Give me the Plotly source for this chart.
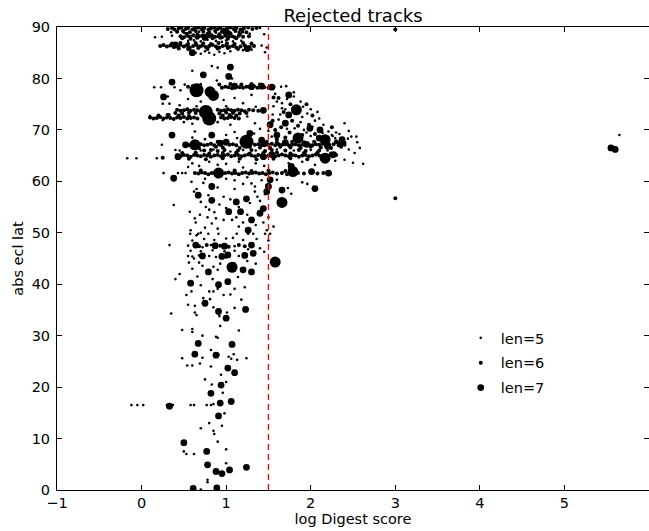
import plotly.graph_objects as go

# ---------------- data ----------------
threshold = 1.5  # dashed cut line in log Digest score

x_ticks = [-1, 0, 1, 2, 3, 4, 5, 6]
y_ticks = [0, 10, 20, 30, 40, 50, 60, 70, 80, 90]

# len=5 tracks (smallest markers)
len5_pts = [
    (0.16, 88.0), (0.24, 88.1), (0.36, 88.3), (0.55, 87.3), (0.62, 87.4), (0.70, 87.2), (0.78, 87.5),
    (0.88, 87.3), (0.95, 87.1), (1.00, 87.4), (1.08, 87.2), (1.18, 87.3), (0.58, 85.4), (0.64, 85.0),
    (0.70, 84.8), (0.75, 85.3), (0.80, 85.0), (0.86, 84.6), (0.92, 85.2), (0.98, 84.9), (1.05, 85.3),
    (1.20, 85.5), (1.30, 85.6), (1.46, 85.1), (1.42, 86.4), (1.48, 86.0), (0.35, 89.0), (0.50, 88.9),
    (0.68, 89.1), (0.88, 88.9), (1.15, 89.0), (1.28, 88.7), (1.40, 89.8), (1.45, 88.6),
    (0.83, 82.4), (0.90, 82.1), (0.60, 81.5), (0.89, 79.6), (1.07, 80.0), (0.51, 78.8), (0.46, 77.7),
    (0.15, 78.3), (0.23, 78.3), (0.39, 78.3), (0.60, 78.6), (0.70, 78.9), (1.65, 78.4), (1.71, 78.5),
    (0.31, 76.5), (0.97, 75.8), (1.10, 76.2), (0.25, 75.1), (0.33, 75.1), (0.55, 76.0), (0.70, 75.5),
    (1.20, 75.2), (1.30, 76.8), (0.45, 74.8), (0.65, 74.6), (1.00, 74.6), (0.30, 73.0), (0.10, 72.7),
    (0.25, 71.9), (0.50, 71.5), (0.60, 71.2), (0.90, 71.5), (1.05, 71.0), (1.25, 72.6), (1.35, 74.5),
    (1.80, 77.3), (1.80, 76.5), (1.66, 75.2), (1.66, 74.2), (1.91, 74.5), (1.96, 73.2), (1.34, 71.3),
    (1.81, 70.3), (1.88, 71.5), (2.21, 69.7), (2.40, 71.3), (2.29, 68.4), (2.48, 68.7), (2.54, 68.7),
    (1.54, 68.7), (1.60, 75.5), (1.55, 73.0), (1.62, 72.0), (1.90, 72.5), (2.05, 71.8), (1.95, 69.5),
    (2.30, 69.5), (2.15, 71.0), (1.58, 77.0), (1.70, 74.0), (2.00, 68.8), (2.45, 69.8), (0.63, 69.7),
    (1.33, 69.3), (1.13, 68.4), (2.58, 66.5), (2.62, 63.4), (2.50, 63.6), (2.52, 65.5), (2.45, 66.2),
    (1.50, 69.8), (1.40, 70.2), (1.72, 76.0), (2.10, 72.2), (2.25, 69.0),
    (1.56, 74.6), (1.64, 73.0), (1.72, 70.2), (1.82, 69.0), (1.92, 70.0), (2.02, 70.6), (2.14, 69.4),
    (2.26, 68.8), (2.34, 69.2), (2.44, 68.3), (2.55, 67.6), (2.00, 74.0), (2.08, 73.5), (1.88, 75.5),
    (-0.17, 64.5), (-0.06, 64.5), (0.18, 64.5), (0.70, 66.0), (0.85, 66.2), (1.05, 65.8), (1.20, 66.1),
    (1.35, 66.0), (1.60, 66.2), (1.80, 66.0), (2.00, 66.1), (2.20, 66.0), (0.60, 63.5), (0.80, 63.8),
    (1.00, 63.4), (1.15, 63.8), (1.35, 63.5), (1.74, 63.5), (2.29, 64.0), (2.40, 64.2), (1.90, 63.8),
    (2.05, 63.2), (0.26, 61.6), (0.43, 61.6), (0.48, 61.6), (0.52, 61.6), (0.40, 66.1), (0.45, 66.0),
    (0.24, 67.1), (0.60, 68.5), (0.75, 68.2), (1.00, 69.0), (1.10, 69.6),
    (0.55, 62.8), (0.68, 63.0), (0.90, 63.2), (1.20, 62.7), (1.45, 63.0), (0.75, 60.5), (1.10, 60.2),
    (1.30, 59.6),
    (0.59, 59.9), (0.73, 59.7), (0.79, 57.3), (1.34, 59.0), (1.60, 60.3), (1.73, 58.7), (1.90, 59.8),
    (1.96, 59.5), (1.77, 57.6), (1.34, 58.0), (1.37, 57.0), (1.48, 59.3), (0.38, 55.4), (0.97, 57.0),
    (1.10, 58.5), (1.20, 59.5), (0.90, 58.8), (1.00, 60.5), (1.25, 60.8), (1.42, 60.2), (0.65, 58.5),
    (0.62, 58.0), (0.70, 56.0), (0.76, 55.0), (0.86, 54.0), (0.92, 55.5), (1.05, 56.5), (1.15, 55.0),
    (1.28, 55.8), (1.40, 56.2), (1.46, 57.5),
    (0.57, 54.1), (0.63, 52.8), (0.69, 53.5), (0.97, 52.5), (1.07, 52.5), (0.83, 51.8), (0.58, 50.5),
    (1.48, 50.5), (1.56, 51.2), (0.75, 51.0), (0.90, 50.8), (1.15, 51.2), (1.35, 51.5), (1.00, 54.8),
    (0.80, 54.5), (1.25, 53.5), (0.70, 50.0), (0.65, 49.5), (1.50, 53.0), (0.64, 52.0), (0.78, 53.0),
    (0.88, 52.8), (1.12, 53.0), (1.20, 52.0), (1.44, 52.0),
    (0.575, 49.8), (0.67, 49.8), (0.79, 49.8), (0.91, 49.8), (1.125, 49.8), (1.26, 49.8), (1.32, 49.8),
    (1.46, 49.8), (1.52, 49.8), (0.55, 47.5), (0.72, 47.2), (0.82, 47.6), (1.10, 47.4),
    (0.60, 48.5), (0.74, 48.8), (0.86, 48.6), (1.00, 48.9), (1.08, 49.0), (1.20, 48.6), (1.36, 48.8),
    (0.58, 46.5), (0.70, 46.4), (0.84, 46.6), (0.98, 46.4), (1.10, 46.5), (1.26, 46.8),
    (0.55, 45.5), (0.60, 45.4), (0.68, 45.6), (0.80, 45.5), (0.88, 45.3), (1.00, 45.2), (1.15, 45.5),
    (0.33, 47.6), (0.56, 44.2), (0.68, 44.2), (0.85, 43.4), (0.93, 44.0), (0.62, 45.0), (1.35, 44.0),
    (1.40, 47.0), (1.45, 46.3), (1.50, 48.5), (0.45, 42.0), (0.40, 41.0), (0.60, 43.0), (0.72, 43.6),
    (0.90, 42.8), (1.10, 44.0), (1.25, 44.5), (0.66, 41.5), (0.84, 41.0), (1.14, 41.4),
    (0.59, 38.6), (0.53, 37.9), (0.73, 37.3), (0.80, 38.6), (0.85, 38.6), (0.90, 39.1), (0.97, 37.9),
    (1.10, 39.1), (1.22, 39.4), (0.81, 37.1), (0.70, 39.8), (1.05, 38.0), (1.18, 37.0), (0.55, 36.0),
    (0.85, 35.5),
    (0.48, 31.1), (0.60, 30.7), (0.60, 31.3), (0.63, 34.5),
    (0.65, 34.0), (0.88, 29.8), (0.90, 29.6), (0.35, 34.3), (0.63, 35.8), (1.01, 34.5), (0.92, 33.8),
    (1.10, 35.4), (0.93, 31.9), (0.72, 30.0), (1.15, 31.0),
    (0.48, 25.6), (0.54, 24.2), (0.60, 24.2), (0.69, 24.6), (0.72, 25.7), (0.82, 27.2), (0.86, 26.3),
    (0.91, 26.3), (1.24, 25.6), (1.13, 25.3), (1.09, 26.4), (1.03, 25.9), (1.06, 25.5), (0.82, 24.0),
    (0.94, 22.4), (0.75, 21.5), (1.00, 21.0), (0.83, 20.5), (0.96, 18.9),
    (-0.12, 16.5), (-0.05, 16.5), (0.02, 16.5), (0.30, 16.5), (0.37, 16.5), (0.58, 16.5), (0.62, 16.5),
    (0.77, 16.5), (0.82, 16.5), (0.85, 16.7),
    (0.98, 14.9), (0.80, 13.0), (0.70, 12.0), (0.95, 12.5), (0.85, 11.5), (0.86, 10.9), (0.90, 9.4),
    (1.00, 7.9), (0.50, 7.5), (0.53, 7.0), (0.62, 7.0), (1.00, 5.2), (0.78, 1.5), (0.78, 2.0),
    (0.70, 0.1), (5.65, 69.0),
]

# len=6 tracks (medium markers)
len6_pts = [
    (0.31, 89.6), (0.36, 89.8), (0.39, 89.5), (0.44, 89.7), (0.47, 89.9), (0.52, 89.6), (0.55, 89.8),
    (0.60, 89.5), (0.63, 89.7), (0.67, 89.9), (0.71, 89.6), (0.74, 89.8), (0.79, 89.5), (0.82, 89.7),
    (0.86, 89.9), (0.90, 89.6), (0.93, 89.8), (0.97, 89.5), (1.01, 89.7), (1.05, 89.9), (1.09, 89.6),
    (1.12, 89.8), (1.17, 89.5), (1.21, 89.7), (1.26, 89.9), (1.31, 89.6), (1.36, 89.8),
    (0.42, 89.1), (0.49, 89.2), (0.57, 89.0), (0.64, 89.2), (0.73, 89.1), (0.80, 89.0), (0.87, 89.2),
    (0.95, 89.1), (1.03, 89.0), (1.11, 89.2), (1.19, 89.1), (1.24, 89.0),
    (0.53, 88.7), (0.66, 88.6), (0.78, 88.7), (0.92, 88.6), (1.05, 88.8), (1.16, 88.6),
    (0.46, 88.2), (0.50, 88.0), (0.54, 88.3), (0.57, 88.1), (0.61, 88.4), (0.65, 88.0), (0.68, 88.2),
    (0.72, 88.3), (0.76, 88.0), (0.80, 88.2), (0.83, 88.4), (0.87, 88.1), (0.91, 88.2), (0.95, 88.0),
    (0.99, 88.3), (1.03, 88.1), (1.07, 88.2), (1.10, 88.0), (1.15, 88.3), (1.20, 88.1), (1.27, 88.2),
    (0.48, 87.8), (0.58, 87.7), (0.66, 87.9), (0.74, 87.7), (0.84, 87.8), (0.93, 87.9), (1.02, 87.7),
    (1.12, 87.8),
    (0.36, 86.8), (0.46, 86.9), (0.55, 86.7), (0.64, 86.9), (0.73, 86.8), (0.82, 86.7), (0.91, 86.9),
    (1.01, 86.8), (1.10, 86.7), (1.20, 86.9), (1.30, 86.8),
    (0.22, 86.3), (0.26, 86.5), (0.30, 86.2), (0.34, 86.4), (0.38, 86.1), (0.42, 86.3), (0.46, 86.5),
    (0.50, 86.2), (0.53, 86.4), (0.57, 86.0), (0.61, 86.3), (0.65, 86.5), (0.69, 86.2), (0.72, 86.4),
    (0.76, 86.1), (0.80, 86.3), (0.84, 86.5), (0.88, 86.2), (0.92, 86.0), (0.96, 86.3), (1.00, 86.4),
    (1.04, 86.1), (1.08, 86.3), (1.12, 86.0), (1.17, 86.2), (1.22, 86.4), (1.28, 86.1), (1.33, 86.3),
    (0.44, 85.8), (0.55, 85.7), (0.67, 85.9), (0.78, 85.7), (0.90, 85.8), (1.02, 85.9), (1.14, 85.7),
    (0.55, 78.4), (0.95, 78.2), (0.99, 78.4), (1.03, 78.3), (1.07, 78.1), (1.12, 78.4), (1.16, 78.3),
    (1.20, 78.2), (1.24, 78.4), (1.28, 78.3), (1.33, 78.5), (1.37, 78.2), (1.41, 78.4), (1.45, 78.3),
    (1.50, 78.2), (1.56, 78.4), (0.92, 78.8), (1.05, 78.9), (1.18, 78.8), (1.30, 78.9), (1.40, 78.8),
    (0.42, 73.9), (0.46, 73.7), (0.50, 73.8), (0.54, 74.0), (0.58, 73.7), (0.62, 73.9), (0.66, 73.8),
    (0.90, 73.9), (0.94, 73.7), (0.98, 73.8), (1.02, 74.0), (1.06, 73.8), (1.10, 73.7), (1.14, 73.9),
    (1.18, 73.8), (1.22, 73.6), (1.27, 73.9), (1.32, 73.8), (1.38, 73.7),
    (0.40, 73.3), (0.48, 73.2), (0.56, 73.4), (0.64, 73.3), (0.92, 73.2), (1.00, 73.4), (1.08, 73.3),
    (1.16, 73.2), (1.24, 73.3), (0.20, 72.8), (0.32, 72.9), (0.44, 72.8), (0.56, 72.7), (0.96, 72.8),
    (1.04, 72.9), (1.12, 72.8),
    (0.10, 72.4), (0.14, 72.2), (0.18, 72.3), (0.22, 72.5), (0.26, 72.2), (0.30, 72.4), (0.34, 72.3),
    (0.38, 72.1), (0.42, 72.4), (0.46, 72.3), (0.50, 72.5), (0.54, 72.2), (0.58, 72.3), (0.62, 72.4),
    (0.66, 72.2), (0.94, 72.4), (0.98, 72.2), (1.02, 72.3), (1.06, 72.5), (1.10, 72.3), (1.15, 72.2),
    (0.66, 67.6), (0.90, 67.7), (1.30, 67.6), (1.48, 67.7), (1.60, 67.6), (1.78, 67.7), (1.92, 67.6),
    (2.04, 67.7), (2.30, 67.6),
    (0.52, 67.1), (0.56, 67.0), (0.70, 67.2), (0.74, 67.0), (0.78, 67.1), (0.82, 67.3), (0.86, 67.0),
    (1.04, 67.1), (1.08, 67.2), (1.12, 67.0), (1.34, 67.1), (1.38, 67.2), (1.42, 67.0), (1.46, 67.2),
    (1.50, 67.1), (1.54, 67.3), (1.58, 67.0), (1.62, 67.2), (1.66, 67.1), (1.70, 67.3), (1.74, 67.0),
    (1.78, 67.1), (1.82, 67.2), (1.86, 67.0), (1.90, 67.1), (1.94, 67.3), (1.98, 67.1), (2.02, 67.0),
    (2.06, 67.2), (2.10, 67.1), (2.14, 67.3), (2.18, 67.0), (2.22, 67.1), (2.27, 67.2), (2.33, 67.0),
    (2.40, 67.1),
    (0.60, 66.6), (0.68, 66.5), (0.88, 66.7), (0.96, 66.6), (1.16, 66.5), (1.28, 66.7), (1.40, 66.6),
    (1.52, 66.5), (1.64, 66.7), (1.76, 66.6), (1.88, 66.5), (2.00, 66.7), (2.12, 66.6), (2.24, 66.5),
    (2.36, 66.7),
    (0.74, 66.0), (0.82, 66.1), (0.90, 65.9), (0.98, 66.1), (1.14, 66.0), (1.30, 66.1), (1.46, 65.9),
    (1.54, 66.1), (1.70, 66.0), (1.86, 66.1), (1.94, 65.9), (2.10, 66.0),
    (0.48, 65.5), (0.64, 65.6), (0.80, 65.4), (0.96, 65.5), (1.12, 65.6), (1.28, 65.4), (1.44, 65.5),
    (1.60, 65.6), (1.76, 65.4), (1.92, 65.5), (2.08, 65.6), (2.24, 65.4),
    (0.42, 65.0), (0.46, 64.9), (0.50, 65.1), (0.54, 65.0), (0.58, 64.8), (0.62, 65.1), (0.66, 65.0),
    (0.70, 64.9), (0.74, 65.1), (0.78, 65.0), (0.82, 64.8), (0.86, 65.0), (0.90, 65.1), (0.94, 64.9),
    (0.98, 65.0), (1.02, 65.2), (1.06, 64.9), (1.10, 65.0), (1.14, 65.1), (1.18, 64.9), (1.22, 65.0),
    (1.26, 65.2), (1.30, 65.0), (1.34, 64.9), (1.38, 65.1), (1.42, 65.0), (1.46, 64.8), (1.50, 65.0),
    (1.54, 65.1), (1.58, 64.9), (1.62, 65.0), (1.66, 65.2), (1.70, 65.0), (1.74, 64.9), (1.78, 65.1),
    (1.82, 65.0), (1.86, 64.8), (1.90, 65.0), (1.94, 65.1), (1.98, 64.9), (2.02, 65.0), (2.06, 65.2),
    (2.10, 65.0), (2.14, 64.9), (2.18, 65.1), (2.22, 65.0), (2.26, 64.9), (2.30, 65.1),
    (0.56, 64.4), (0.76, 64.3), (0.96, 64.5), (1.16, 64.4), (1.36, 64.3), (1.56, 64.4), (1.76, 64.5),
    (1.96, 64.3), (2.16, 64.4),
    (0.70, 62.1), (0.90, 62.0), (1.10, 62.1), (1.30, 62.0), (1.50, 62.1), (1.70, 62.0),
    (0.63, 61.6), (0.67, 61.5), (0.71, 61.7), (0.75, 61.6), (0.79, 61.4), (0.83, 61.6), (0.87, 61.7),
    (0.95, 61.5), (0.99, 61.6), (1.03, 61.7), (1.07, 61.5), (1.11, 61.6), (1.15, 61.4), (1.19, 61.6),
    (1.23, 61.7), (1.27, 61.5), (1.31, 61.6), (1.35, 61.7), (1.39, 61.5), (1.43, 61.6), (1.47, 61.4),
    (1.51, 61.6), (1.55, 61.7), (1.60, 61.5), (1.66, 61.6), (1.72, 61.4), (1.85, 61.6), (1.92, 61.5),
    (2.00, 61.7), (2.08, 61.5), (2.15, 61.6), (2.23, 61.5),
    (3.00, 89.5), (3.00, 56.7), (0.25, 64.6), (1.58, 70.0), (1.65, 70.5), (1.75, 69.5), (1.90, 69.0),
    (2.05, 69.2), (2.25, 70.5), (2.30, 67.8), (2.40, 67.5), (1.85, 70.8), (1.68, 73.5), (1.95, 75.0),
    (2.02, 72.8), (1.78, 71.8), (1.62, 76.2), (1.55, 71.8), (1.98, 71.0), (2.20, 68.5),
    (1.60, 68.2), (1.70, 68.5), (1.56, 76.3), (1.76, 75.0),
    (0.68, 47.4), (0.77, 47.6), (0.93, 47.5), (1.03, 47.3), (1.15, 47.6), (1.22, 47.4),
]

# len=7 tracks (largest legend marker)
len7_pts = [
    (0.40, 86.5), (0.75, 88.0), (1.00, 89.0), (1.25, 85.8), (0.60, 85.0),
    (1.05, 82.2), (0.73, 80.7), (1.03, 80.4), (0.36, 79.3), (1.10, 78.5), (1.30, 78.4), (1.42, 78.5),
    (1.54, 78.3), (0.26, 76.4), (1.44, 73.8), (1.74, 76.8), (1.74, 72.9), (1.52, 71.0), (1.70, 71.3),
    (1.99, 70.3), (2.11, 70.0), (2.37, 68.1), (2.10, 68.4), (1.60, 69.0), (1.42, 68.0), (1.28, 69.3),
    (0.83, 69.0), (0.36, 69.0), (0.93, 67.4), (1.00, 67.6), (1.45, 67.3), (1.70, 67.5), (1.95, 67.2),
    (2.20, 66.8), (2.35, 67.3), (0.43, 64.8), (1.44, 64.8), (2.27, 65.2), (1.54, 65.2), (0.52, 67.1),
    (0.38, 60.6), (2.01, 61.9), (1.52, 60.3), (1.50, 59.0), (1.66, 58.3), (0.83, 59.0), (2.05, 58.6),
    (1.48, 58.0), (1.77, 62.9), (2.21, 61.6), (0.67, 57.3), (0.83, 56.3), (1.12, 56.0), (1.24, 56.6),
    (1.44, 54.7), (1.03, 54.1), (1.17, 54.1), (1.30, 52.5), (1.40, 53.8), (1.26, 50.5),
    (0.64, 47.6), (0.87, 47.5), (0.98, 47.4), (1.30, 47.6), (0.72, 45.5), (0.95, 45.4), (1.22, 45.6),
    (1.32, 46.0), (1.02, 45.7), (1.20, 42.8), (0.79, 42.4), (1.30, 42.4), (0.91, 39.9), (0.58, 40.2),
    (1.02, 40.5), (0.75, 36.3), (0.91, 34.7), (1.00, 33.4), (1.23, 35.1), (0.67, 28.5), (1.07, 28.3),
    (0.63, 26.4), (0.88, 26.2), (1.02, 23.7), (1.10, 22.8), (0.94, 20.4), (0.82, 18.8), (0.93, 16.9),
    (1.06, 17.2), (0.33, 16.3), (0.91, 14.4), (0.50, 9.2), (0.77, 7.5), (0.78, 4.9), (0.88, 3.6),
    (0.95, 3.2), (1.04, 3.9), (1.24, 4.4), (0.61, 0.3), (0.89, 0.4),
    (5.55, 66.5), (5.60, 66.2),
]

# len=7 tracks drawn with larger markers (clustered detections)
large_pts = [
    (0.85, 76.7), (1.83, 73.9), (1.85, 68.4), (2.17, 68.1), (0.63, 67.1), (2.17, 64.5), (0.91, 61.6),
    (1.79, 61.9), (1.66, 55.9), (1.58, 44.3), (1.07, 43.3), (0.81, 77.4),
]
xlarge_pts = [
    (0.65, 77.7), (0.76, 73.5), (0.80, 72.2), (1.24, 67.7),
]

# ---------------- figure ----------------
def xs(pts):
    return [p[0] for p in pts]


def ys(pts):
    return [p[1] for p in pts]


font_family = "DejaVu Sans"
fig = go.Figure()

fig.add_trace(go.Scatter(x=xs(xlarge_pts), y=ys(xlarge_pts), mode="markers", showlegend=False,
                         marker=dict(color="black", size=14, line=dict(width=0)), hoverinfo="skip"))
fig.add_trace(go.Scatter(x=xs(large_pts), y=ys(large_pts), mode="markers", showlegend=False,
                         marker=dict(color="black", size=11, line=dict(width=0)), hoverinfo="skip"))
fig.add_trace(go.Scatter(x=xs(len5_pts), y=ys(len5_pts), mode="markers", name="len=5", legendgroup="a",
                         marker=dict(color="black", size=2.6, line=dict(width=0))))
fig.add_trace(go.Scatter(x=xs(len6_pts), y=ys(len6_pts), mode="markers", name="len=6", legendgroup="b",
                         marker=dict(color="black", size=4.0, line=dict(width=0))))
fig.add_trace(go.Scatter(x=xs(len7_pts), y=ys(len7_pts), mode="markers", name="len=7", legendgroup="c",
                         marker=dict(color="black", size=6.8, line=dict(width=0))))

fig.add_vline(x=threshold, line=dict(color="#ff0000", width=1.3, dash="6px,4px"))

axis_common = dict(
    showline=True, linecolor="black", linewidth=1, mirror="allticks",
    ticks="inside", ticklen=5, tickwidth=1, tickcolor="black",
    showgrid=False, zeroline=False,
    tickfont=dict(family=font_family, size=14.5, color="black"),
)

fig.update_xaxes(range=[-1, 6], tickvals=x_ticks,
                 ticktext=[("\u2212" + str(-t)) if t < 0 else str(t) for t in x_ticks],
                 title=dict(text="log Digest score", font=dict(family=font_family, size=14.5, color="black"), standoff=1),
                 **axis_common)
fig.update_yaxes(range=[0, 90], tickvals=y_ticks, ticklabelstandoff=3,
                 title=dict(text="abs ecl lat", font=dict(family=font_family, size=14.5, color="black"), standoff=4),
                 **axis_common)

fig.update_layout(
    width=649, height=531,
    margin=dict(l=57, r=0, t=27, b=41),
    paper_bgcolor="white", plot_bgcolor="white",
    title=dict(text="Rejected tracks", x=0.5, xref="paper", xanchor="center",
               y=1, yref="paper", yanchor="bottom", pad=dict(b=5),
               font=dict(family=font_family, size=18, color="black")),
    legend=dict(x=0.682, y=0.363, xanchor="left", yanchor="top", bgcolor="rgba(0,0,0,0)",
                borderwidth=0, font=dict(family=font_family, size=14.5, color="black"),
                tracegroupgap=3, traceorder="grouped", itemsizing="trace"),
    font=dict(family=font_family),
)

fig.write_html("out.html")
